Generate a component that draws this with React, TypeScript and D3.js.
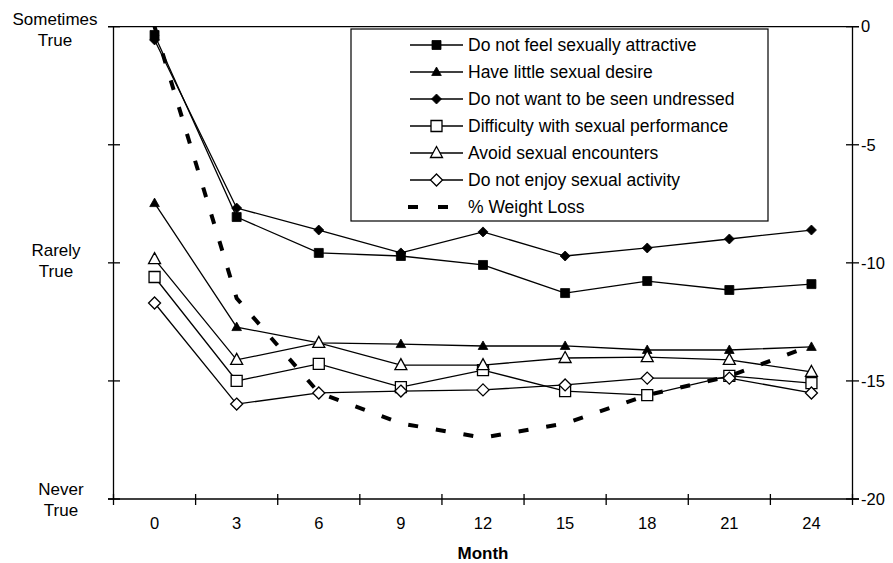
import React from "react";
import * as d3 from "d3";

// months on the x axis
const months = ["0", "3", "6", "9", "12", "15", "18", "21", "24"];

// left axis: 1 = Never True, 2 = Rarely True, 3 = Sometimes True
const notAttractive = [2.965, 2.194, 2.042, 2.029, 1.991, 1.872, 1.923, 1.885, 1.91];
const littleDesire = [2.253, 1.728, 1.661, 1.656, 1.648, 1.648, 1.631, 1.631, 1.644];
const notUndressed = [2.944, 2.232, 2.139, 2.042, 2.131, 2.029, 2.063, 2.101, 2.139];
const performance = [1.94, 1.5, 1.572, 1.474, 1.546, 1.457, 1.44, 1.521, 1.491];
const avoidEncounters = [2.016, 1.589, 1.661, 1.567, 1.567, 1.597, 1.601, 1.589, 1.538];
const notEnjoy = [1.83, 1.402, 1.449, 1.457, 1.462, 1.483, 1.512, 1.512, 1.449];

// right axis
const weightLoss = [0, -11.5, -15.5, -16.8, -17.4, -16.8, -15.6, -14.8, -13.5];

const leftTicks = [1, 1.5, 2, 2.5, 3];
const leftLabels = [
  { v: 3, lines: ["Sometimes", "True"], cx: 55, dy: -1.7 },
  { v: 2, lines: ["Rarely", "True"], cx: 56, dy: -6.5 },
  { v: 1, lines: ["Never", "True"], cx: 61, dy: -4 },
];
const rightTicks = [0, -5, -10, -15, -20];

type Marker = "square" | "triangle" | "diamond";
const series: { name: string; values: number[]; marker: Marker; filled: boolean }[] = [
  { name: "Do not feel sexually attractive", values: notAttractive, marker: "square", filled: true },
  { name: "Have little sexual desire", values: littleDesire, marker: "triangle", filled: true },
  { name: "Do not want to be seen undressed", values: notUndressed, marker: "diamond", filled: true },
  { name: "Difficulty with sexual performance", values: performance, marker: "square", filled: false },
  { name: "Avoid sexual encounters", values: avoidEncounters, marker: "triangle", filled: false },
  { name: "Do not enjoy sexual activity", values: notEnjoy, marker: "diamond", filled: false },
];

function markerPath(m: Marker, filled: boolean) {
  if (m === "square") {
    const h = filled ? 4.5 : 5.5;
    return `M${-h},${-h}H${h}V${h}H${-h}Z`;
  }
  if (m === "triangle") {
    const w = filled ? 4.8 : 6;
    const up = filled ? 5 : 6.5;
    const dn = filled ? 3.5 : 4.5;
    return `M0,${-up}L${w},${dn}L${-w},${dn}Z`;
  }
  const h = filled ? 5 : 6;
  return `M0,${-h}L${h},0L0,${h}L${-h},0Z`;
}

const font = "'Liberation Sans', Arial, sans-serif";

export default function App() {
  const left = 113.5, right = 852.5, top = 26.7, bottom = 499;

  const x = d3.scaleBand<string>().domain(months).range([left, right]).paddingInner(0).paddingOuter(0);
  const cx = (m: string) => (x(m) as number) + x.bandwidth() / 2;
  const yL = d3.scaleLinear().domain([1, 3]).range([bottom, top]);
  const yR = d3.scaleLinear().domain([-20, 0]).range([bottom, top]);

  const lineL = d3.line<number>().x((_, i) => cx(months[i])).y((d) => yL(d));
  const lineR = d3.line<number>().x((_, i) => cx(months[i])).y((d) => yR(d));

  const boundaries = months.map((m) => x(m) as number).concat([right]);

  const legendX = 351, legendY = 29, legendW = 417, legendH = 192;
  const rowY = (i: number) => 45 + i * 27;

  return (
    <svg width={893} height={563} style={{ position: "absolute", left: 0, top: 0, background: "#fff" }} fontFamily={font}>
      {/* axes */}
      <g stroke="#000" strokeWidth={1.3} fill="none">
        <line x1={108} x2={859} y1={top} y2={top} />
        <line x1={left} x2={left} y1={top} y2={bottom} />
        <line x1={right} x2={right} y1={top} y2={bottom} />
        <line x1={108} x2={859} y1={bottom} y2={bottom} />
        {leftTicks.map((t) => (
          <line key={"l" + t} x1={108} x2={120} y1={yL(t)} y2={yL(t)} />
        ))}
        {rightTicks.map((t) => (
          <line key={"r" + t} x1={846} x2={859} y1={yR(t)} y2={yR(t)} />
        ))}
        {boundaries.map((b, i) => (
          <line key={"b" + i} x1={b} x2={b} y1={494} y2={505} />
        ))}
      </g>

      {/* left axis labels */}
      <g fontSize={17} textAnchor="middle" fill="#000">
        {leftLabels.map((l) => (
          <text key={l.v} x={l.cx} y={yL(l.v) + l.dy}>
            <tspan x={l.cx} dy={0}>{l.lines[0]}</tspan>
            <tspan x={l.cx} dy={21}>{l.lines[1]}</tspan>
          </text>
        ))}
      </g>

      {/* right axis labels */}
      <g fontSize={16.5} fill="#000">
        {rightTicks.map((t) => (
          <text key={t} x={861} y={yR(t)} dy="0.35em">{t}</text>
        ))}
      </g>

      {/* x labels */}
      <g fontSize={16.5} textAnchor="middle" fill="#000">
        {months.map((m) => (
          <text key={m} x={cx(m)} y={529}>{m}</text>
        ))}
      </g>
      <text x={(left + right) / 2} y={559} fontSize={17} fontWeight="bold" textAnchor="middle">Month</text>

      {/* series */}
      {series.map((s) => (
        <g key={s.name}>
          <path d={lineL(s.values) || ""} fill="none" stroke="#000" strokeWidth={1.3} />
          {s.values.map((v, i) => (
            <path
              key={i}
              transform={`translate(${cx(months[i])},${yL(v)})`}
              d={markerPath(s.marker, s.filled)}
              fill={s.filled ? "#000" : "#fff"}
              stroke="#000"
              strokeWidth={s.filled ? 0.8 : 1.3}
            />
          ))}
        </g>
      ))}

      <path d={lineR(weightLoss) || ""} fill="none" stroke="#000" strokeWidth={4} strokeDasharray="10,18" />

      {/* legend */}
      <rect x={legendX} y={legendY} width={legendW} height={legendH} fill="#fff" stroke="#000" strokeWidth={1.2} />
      {series.map((s, i) => (
        <g key={"lg" + i}>
          <line x1={410} x2={463} y1={rowY(i)} y2={rowY(i)} stroke="#000" strokeWidth={1.3} />
          <path
            transform={`translate(436.5,${rowY(i)})`}
            d={markerPath(s.marker, s.filled)}
            fill={s.filled ? "#000" : "#fff"}
            stroke="#000"
            strokeWidth={s.filled ? 0.8 : 1.3}
          />
          <text x={468} y={rowY(i)} dy="0.35em" fontSize={17.5}>{s.name}</text>
        </g>
      ))}
      <line x1={408} x2={448} y1={rowY(6)} y2={rowY(6)} stroke="#000" strokeWidth={4} strokeDasharray="10,20" />
      <text x={468} y={rowY(6)} dy="0.35em" fontSize={17.5}>% Weight Loss</text>
    </svg>
  );
}
